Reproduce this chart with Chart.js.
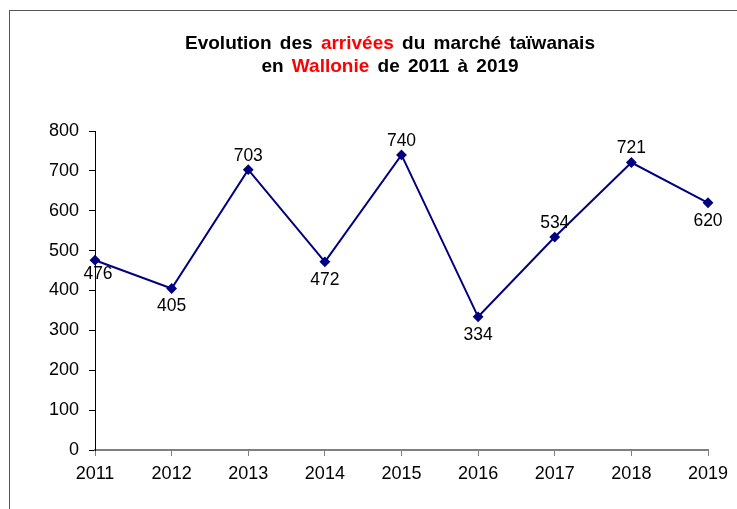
<!DOCTYPE html>
<html>
<head>
<meta charset="utf-8">
<script src="https://cdn.jsdelivr.net/npm/chart.js@4/dist/chart.umd.min.js"></script>
<style>
  html, body { margin: 0; padding: 0; background: #fff; }
  #wrap { position: relative; width: 737px; height: 509px; overflow: hidden; }
  #frame { position: absolute; left: 9px; top: 10px; width: 800px; height: 600px; border: 1px solid #555; box-sizing: border-box; }
  #title { position: absolute; left: 0; width: 780px; top: 31px; text-align: center; font-family: "Liberation Sans", Arial, sans-serif; font-weight: bold; font-size: 19px; word-spacing: 3px; line-height: 23px; color: #000; }
  #title .red { color: #ff0000; }
  canvas { position: absolute; left: 0; top: 0; }
</style>
</head>
<body>
<div id="wrap">
  <div id="frame"></div>
  <canvas id="c" width="737" height="509"></canvas>
  <div id="title">Evolution des <span class="red">arrivées</span> du marché taïwanais<br>en <span class="red">Wallonie</span> de 2011 à 2019</div>
</div>
<script>
const years = ["2011","2012","2013","2014","2015","2016","2017","2018","2019"];
const arrivals = [476, 405, 703, 472, 740, 334, 534, 721, 620];
const labelPlacement = ["below","below","above","below","above","below","above","above","below"];

const dataLabels = {
  id: 'dataLabels',
  afterDatasetsDraw(chart) {
    const ctx = chart.ctx;
    const meta = chart.getDatasetMeta(0);
    ctx.save();
    ctx.font = '17.5px "Liberation Sans", Arial, sans-serif';
    ctx.fillStyle = '#000';
    ctx.textAlign = 'center';
    ctx.textBaseline = 'middle';
    meta.data.forEach((pt, i) => {
      let dy = labelPlacement[i] === 'above' ? -14 : 18;
      let x = pt.x;
      if (i === 0) { x += 3; dy = 14; }
      ctx.fillText(String(arrivals[i]), x, pt.y + dy);
    });
    ctx.restore();
  }
};

new Chart(document.getElementById('c'), {
  type: 'line',
  data: {
    labels: years,
    datasets: [{
      data: arrivals,
      borderColor: '#000080',
      backgroundColor: '#000080',
      borderWidth: 2,
      pointStyle: 'rectRot',
      pointRadius: 4,
      pointHoverRadius: 4,
      tension: 0
    }]
  },
  options: {
    responsive: false,
    animation: false,
    events: [],
    layout: { padding: { left: 0, right: 29, top: 131, bottom: 0 } },
    plugins: { legend: { display: false }, tooltip: { enabled: false }, title: { display: false } },
    scales: {
      x: {
        offset: false,
        grid: { drawOnChartArea: false, color: '#808080', tickLength: 6, lineWidth: 1 },
        border: { color: '#808080', width: 2 },
        ticks: { color: '#000', font: { family: '"Liberation Sans", Arial, sans-serif', size: 18 }, padding: 7, maxRotation: 0 },
        afterFit(scale) { scale.height = 59; }
      },
      y: {
        min: 0, max: 800,
        grid: { drawOnChartArea: false, color: '#000', tickLength: 6 },
        border: { color: '#000', width: 1 },
        ticks: { stepSize: 100, color: '#000', font: { family: '"Liberation Sans", Arial, sans-serif', size: 18 }, padding: 10 },
        afterFit(scale) { scale.width = 95; }
      }
    }
  },
  plugins: [dataLabels]
});
</script>
</body>
</html>
